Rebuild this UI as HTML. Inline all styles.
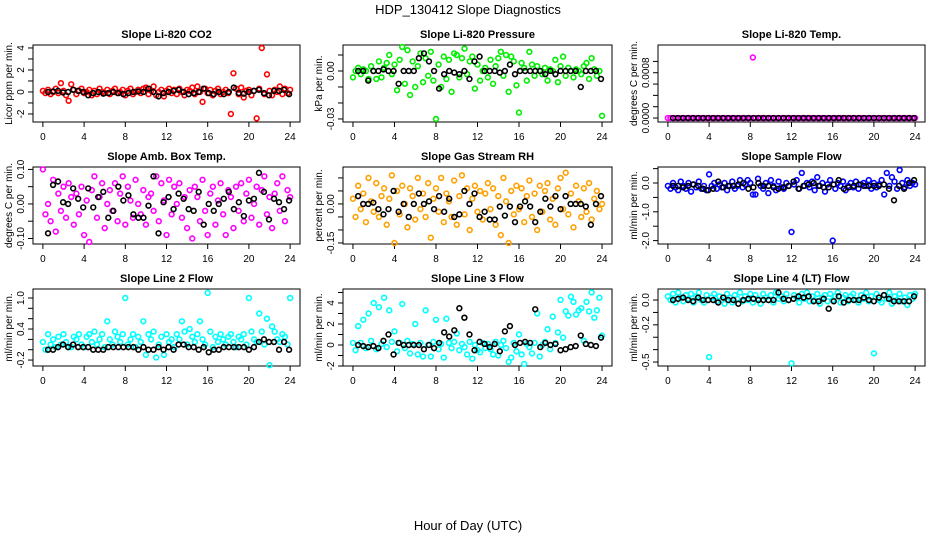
<!DOCTYPE html>
<html><head><meta charset="utf-8"><style>
body{margin:0;background:#fff}
svg{display:block;font-family:"Liberation Sans",Arial,sans-serif}
</style></head><body>
<svg id="c" width="936" height="540" viewBox="0 0 936 540">
<text x="468" y="14" text-anchor="middle" font-size="13">HDP_130412  Slope Diagnostics</text>
<text x="468" y="530" text-anchor="middle" font-size="13">Hour of Day (UTC)</text>
</svg>
<script>
const xTicks=[0,4,8,12,16,20,24];
const co2Color=[0.1,-0.1,0.2,-0.2,0.0,0.3,-0.1,0.8,0.1,-0.3,-0.8,0.7,0.2,-0.2,0.1,0.3,-0.1,0.0,0.2,-0.3,0.1,-0.2,0.3,0.0,-0.1,0.2,-0.2,0.1,0.3,-0.1,0.0,0.2,-0.3,0.1,0.3,-0.2,0.0,0.2,-0.1,0.3,0.4,-0.2,0.1,0.5,-0.3,0.0,0.2,-0.4,0.1,0.3,-0.1,0.2,-0.2,0.3,0.0,-0.3,0.2,0.1,0.4,-0.2,0.5,0.0,-0.9,0.3,-0.1,0.2,-0.3,0.1,0.3,-0.2,0.0,0.2,-0.1,-2.0,1.7,0.3,-0.2,0.4,-0.5,0.1,0.2,-0.3,0.1,-2.4,0.3,4.0,-0.2,1.6,0.1,-0.3,0.2,0.0,0.5,-0.2,0.3,-0.1,0.2];
const co2Black=[0.0,0.05,0.1,-0.05,0.0,0.2,0.1,0.0,-0.3,-0.1,0.0,-0.15,-0.1,0.0,-0.1,-0.2,-0.1,0.0,0.05,0.0,0.3,0.0,-0.4,-0.1,0.0,0.1,0.2,0.0,-0.2,-0.1,0.0,0.3,-0.1,-0.2,0.0,-0.2,0.0,0.4,-0.1,-0.15,0.0,0.1,0.2,-0.1,-0.3,0.1,0.1,0.2,-0.2];
const presColor=[-0.004,0.0,0.002,-0.002,0.001,0.0,-0.005,0.003,0.0,-0.005,0.006,-0.004,0.002,0.005,0.01,-0.002,0.004,-0.012,0.007,0.015,-0.008,0.013,-0.015,0.006,-0.01,0.003,0.011,-0.007,0.008,-0.003,0.012,-0.006,-0.03,0.004,-0.01,0.009,-0.005,0.007,-0.013,0.011,0.01,-0.004,0.008,0.014,-0.002,0.006,0.009,-0.011,0.004,-0.006,0.0,0.002,-0.004,0.007,-0.008,0.003,0.008,0.012,-0.003,0.01,-0.013,0.009,0.006,-0.009,-0.026,0.005,0.002,-0.006,0.012,0.004,-0.003,0.003,0.0,-0.002,0.002,-0.006,0.001,0.0,0.007,-0.007,0.003,0.009,-0.003,0.002,0.0,-0.004,0.001,0.0,-0.002,0.003,0.005,-0.005,0.008,0.001,-0.003,0.0,-0.028];
const presBlack=[0.0,0.0,-0.006,0.0,0.0,0.001,0.0,0.0,-0.008,0.0,0.0,0.0,0.008,0.011,0.006,0.0,-0.011,-0.002,0.0,-0.001,-0.002,0.0,-0.005,0.006,0.009,0.0,0.0,0.0,-0.001,0.0,0.004,-0.002,0.0,0.0,0.0,0.0,0.0,-0.002,0.0,-0.002,0.0,0.0,0.0,0.0,-0.01,0.0,0.0,0.0,-0.005];
const tempColor=[0,0,0,0,0,0,0,0,0,0,0,0,0,0,0,0,0,0,0,0,0,0,0,0,0,0,0,0,0,0,0,0,0,0.00107,0,0,0,0,0,0,0,0,0,0,0,0,0,0,0,0,0,0,0,0,0,0,0,0,0,0,0,0,0,0,0,0,0,0,0,0,0,0,0,0,0,0,0,0,0,0,0,0,0,0,0,0,0,0,0,0,0,0,0,0,0,0,0];
const tempBlack=[0,0,0,0,0,0,0,0,0,0,0,0,0,0,0,0,0,0,0,0,0,0,0,0,0,0,0,0,0,0,0,0,0,0,0,0,0,0,0,0,0,0,0,0,0,0,0,0,0];
const ambColor=[0.1,-0.03,0.0,-0.05,0.07,-0.08,0.03,-0.02,0.05,-0.04,0.06,0.02,-0.06,0.03,-0.03,0.05,-0.09,0.01,-0.11,0.04,0.08,-0.04,0.02,0.06,-0.07,0.0,0.04,-0.02,0.06,-0.05,0.03,0.08,-0.06,0.05,0.01,-0.04,0.07,0.0,-0.03,0.04,-0.06,0.02,0.03,-0.02,0.08,-0.05,0.06,0.01,-0.09,0.07,-0.03,0.05,0.0,0.06,-0.04,0.02,-0.07,0.04,-0.1,0.05,0.02,-0.05,0.07,-0.02,-0.09,0.03,0.05,-0.06,0.01,0.06,-0.03,-0.09,0.04,0.02,-0.07,0.05,-0.02,0.06,-0.05,0.03,0.07,-0.04,0.0,0.05,-0.06,0.04,0.08,-0.03,0.02,-0.07,0.03,0.06,-0.02,0.08,-0.05,0.04,0.02];
const ambBlack=[-0.085,0.055,0.065,0.005,0.0,0.045,0.015,-0.01,0.045,-0.01,0.02,0.035,-0.04,-0.02,0.05,0.01,0.025,-0.03,-0.04,-0.04,-0.005,0.08,-0.085,0.005,0.02,-0.015,0.03,0.015,-0.015,-0.02,0.035,-0.06,0.0,-0.02,0.0,0.015,0.035,-0.015,0.005,-0.035,0.01,0.015,0.09,0.035,-0.045,0.015,0.005,-0.015,0.01];
const rhColor=[0.02,-0.05,0.07,-0.02,0.04,-0.07,0.1,0.01,-0.03,0.08,-0.05,0.03,0.06,-0.08,0.02,0.11,-0.15,0.05,-0.04,0.07,0.0,-0.09,0.06,0.03,-0.06,0.1,-0.02,0.04,-0.05,0.08,-0.13,0.02,0.06,-0.03,0.1,-0.07,0.04,0.01,-0.05,0.09,-0.08,0.03,0.11,-0.04,0.06,-0.1,0.02,0.07,-0.03,0.05,-0.06,0.04,0.08,-0.02,0.06,-0.08,0.03,-0.12,0.1,0.01,-0.15,0.05,-0.04,0.07,-0.02,0.06,-0.07,0.03,0.09,-0.05,0.04,-0.1,0.07,-0.03,0.05,0.08,-0.06,0.02,-0.08,0.06,0.1,-0.02,0.12,-0.04,0.04,-0.09,0.07,0.01,-0.05,0.06,-0.03,0.08,-0.06,0.02,0.05,-0.02,0.0];
const rhBlack=[0.03,0.0,0.0,0.005,-0.02,-0.04,-0.02,0.05,-0.03,0.0,-0.05,0.0,0.04,0.0,0.01,-0.02,0.03,-0.03,0.02,-0.05,-0.04,0.05,0.0,0.04,-0.05,-0.03,-0.06,-0.06,-0.01,-0.045,-0.01,-0.07,-0.01,0.01,-0.01,-0.07,-0.03,0.02,-0.01,0.03,-0.02,0.03,0.0,0.0,0.0,-0.01,-0.08,0.0,0.03];
const flowColor=[-0.1,-0.2,0.0,-0.15,-0.25,0.05,-0.1,-0.2,0.0,-0.3,-0.05,-0.15,0.05,-0.2,-0.1,-0.25,0.3,-0.1,0.0,-0.2,-0.05,-0.15,0.0,-0.25,-0.1,0.05,-0.2,-0.1,0.1,-0.15,-0.05,0.1,0.0,-0.4,-0.4,0.15,-0.1,-0.2,0.0,-0.35,0.1,-0.1,-0.25,0.05,-0.15,-0.2,0.0,-0.1,-1.7,-0.05,0.1,-0.2,0.35,-0.1,0.0,-0.15,0.05,-0.25,0.2,-0.1,0.0,-0.3,-0.05,0.1,-2.0,-0.2,0.0,-0.1,0.05,-0.25,-0.1,0.0,-0.15,0.05,-0.2,-0.05,0.0,-0.1,0.1,-0.2,0.0,-0.15,-0.05,0.1,-0.4,0.35,-0.1,0.2,0.05,-0.2,0.45,0.0,-0.15,0.1,-0.1,0.0,-0.05];
const flowBlack=[-0.1,-0.1,-0.15,-0.1,-0.05,-0.1,-0.2,-0.25,-0.2,0.05,-0.15,-0.1,-0.1,-0.05,0.0,-0.2,-0.15,0.0,-0.1,-0.1,-0.15,-0.2,-0.15,-0.1,0.05,-0.2,-0.1,-0.05,0.0,-0.1,-0.15,-0.15,-0.05,0.1,-0.2,-0.15,-0.1,-0.05,-0.1,-0.1,-0.1,-0.1,-0.05,-0.2,-0.6,-0.1,-0.2,0.0,0.1];
const line2Color=[0.15,0.0,0.3,0.1,0.2,0.05,0.25,0.1,0.3,0.15,0.05,0.05,0.25,0.2,0.3,0.1,0.05,0.25,0.3,0.15,0.35,0.1,0.2,0.3,0.05,0.55,0.2,0.1,0.35,0.25,0.15,0.3,1.0,0.1,0.2,0.3,0.05,0.25,0.15,0.55,-0.1,0.3,0.2,0.35,-0.15,0.1,0.25,-0.1,0.3,0.15,0.2,0.05,0.3,0.2,0.55,0.35,0.1,0.4,0.25,0.15,0.3,0.55,0.2,0.1,1.1,0.35,0.05,0.25,0.15,0.3,0.2,0.1,0.25,0.3,0.15,0.05,0.25,0.2,0.3,0.1,1.0,0.35,0.2,0.15,0.7,0.35,0.1,0.6,-0.3,0.45,0.35,0.2,0.15,0.3,0.25,0.1,1.0];
const line2Black=[0.0,0.0,0.05,0.1,0.05,0.1,0.05,0.05,0.05,0.0,0.0,0.0,0.05,0.05,0.05,0.05,0.05,0.05,0.0,0.05,0.0,0.0,0.05,0.0,0.05,0.0,0.1,0.1,0.05,0.05,0.0,0.05,-0.05,0.0,0.0,0.05,0.05,0.05,0.05,0.05,0.0,0.05,0.15,0.2,0.15,0.15,0.0,0.15,0.0];
const line3Color=[0.2,-0.5,1.8,0.2,2.4,-0.3,3.0,0.4,4.0,-0.4,3.6,0.1,4.5,-0.2,3.3,0.3,1.3,-0.6,0.2,3.9,-0.3,0.4,-0.8,0.1,2.0,-0.9,0.2,-1.1,3.3,0.0,-1.1,0.3,2.4,-0.4,0.1,-1.2,2.5,0.2,-0.3,0.3,1.1,-0.5,0.1,-0.2,-0.9,0.3,-1.3,0.0,-0.5,-0.7,0.2,-0.3,0.1,-0.4,-0.9,0.3,-1.0,0.0,0.4,-0.3,-1.6,-1.2,0.2,-0.6,1.0,-0.9,-1.8,0.1,-0.2,-0.8,0.2,3.0,-1.1,0.0,0.3,1.5,-0.4,2.7,0.2,1.2,4.3,0.7,3.2,2.8,4.6,4.1,2.9,3.3,3.5,0.4,4.1,3.2,5.0,2.6,3.3,4.5,0.9];
const line3Black=[0.0,-0.1,-0.2,-0.1,-0.3,0.4,1.0,-0.9,0.2,0.0,0.0,0.0,0.0,-0.4,0.0,-0.3,0.2,1.2,0.8,1.4,3.5,2.6,1.0,-0.5,0.3,0.1,-0.2,0.1,-0.6,1.3,1.8,0.0,0.2,0.3,0.2,3.4,-0.2,0.2,0.0,0.1,-0.5,-0.4,-0.2,-0.1,0.9,0.1,0.0,-0.1,0.7];
const line4Color=[0.03,0.0,0.05,-0.02,0.06,0.02,-0.01,0.04,0.01,0.05,-0.02,0.03,0.06,0.0,-0.02,0.04,-0.46,0.02,0.05,-0.01,0.03,0.0,-0.03,0.05,0.02,-0.02,0.04,0.01,0.06,-0.01,0.03,0.0,0.05,-0.02,0.04,0.01,-0.03,0.05,0.02,0.0,0.04,-0.02,0.06,0.01,0.03,-0.01,0.05,0.0,-0.51,0.04,0.02,-0.02,0.05,0.01,0.06,-0.01,0.03,0.0,0.05,-0.03,0.02,0.04,-0.01,0.05,0.0,0.03,0.06,-0.02,0.02,0.04,-0.01,0.03,0.05,0.0,-0.02,0.04,0.01,0.06,-0.01,0.03,-0.43,0.05,0.0,-0.02,0.04,0.01,0.06,-0.03,0.03,0.0,0.05,-0.01,0.02,-0.04,0.04,0.01,0.05];
const line4Black=[0.0,0.01,0.02,0.0,-0.01,0.02,0.0,0.0,0.0,-0.02,0.02,0.0,0.0,-0.03,0.0,0.01,0.01,0.0,0.0,0.0,0.0,0.06,0.01,0.0,0.01,0.03,0.02,0.03,-0.01,-0.01,0.01,-0.07,-0.01,0.03,-0.02,0.0,0.0,0.0,0.02,0.0,-0.01,0.02,0.04,0.01,-0.01,-0.01,-0.01,-0.01,0.03];

const panelTitles=["Slope Li-820 CO2","Slope Li-820 Pressure","Slope Li-820 Temp.","Slope Amb. Box Temp.","Slope Gas Stream RH","Slope Sample Flow","Slope Line 2 Flow","Slope Line 3 Flow","Slope Line 4 (LT) Flow"];
const yTitles=["Licor ppm per min.","kPa per min.","degrees C per min.","degrees C per min.","percent per min.","ml/min per min.","ml/min per min.","ml/min per min.","ml/min per min."];
const yTickVals=[[-2,-1,0,1,2,3,4],[-0.03,-0.02,-0.01,0,0.01],[0,0.0002,0.0004,0.0006,0.0008,0.001],[-0.1,-0.05,0,0.05,0.1],[-0.15,-0.1,-0.05,0,0.05,0.1],[-2,-1.5,-1,-0.5,0,0.5],[-0.2,0,0.2,0.4,0.6,0.8,1.0],[-2,-1,0,1,2,3,4,5],[-0.5,-0.4,-0.3,-0.2,-0.1,0]];
const yTickLabels=[["-2","","0","","2","","4"],["-0.03","","","0.00",""],["0.0000","","","","0.0008",""],["-0.10","","0.00","","0.10"],["-0.15","","","0.00","",""],["-2.0","","-1.0","","0.0",""],["-0.2","","","0.4","","","1.0"],["-2","","0","","2","","4",""],["-0.5","","","-0.2","","0.0"]];
const colorSeries=[co2Color,presColor,tempColor,ambColor,rhColor,flowColor,line2Color,line3Color,line4Color];
const blackSeries=[co2Black,presBlack,tempBlack,ambBlack,rhBlack,flowBlack,line2Black,line3Black,line4Black];
const yRanges=[[-2.73,4.27],[-0.0319,0.01625],[-0.00007,0.00129],[-0.116,0.107],[-0.154,0.142],[-2.118,0.556],[-0.315,1.174],[-2.0,5.33],[-0.532,0.089]];

const colors=["#ff0000","#00ee00","#ff00ff","#ff00ff","#ffa000","#0000ff","#00ffff","#00ffff","#00ffff"];
const colsX=[[33,300],[343,612],[658,925]];
const rowsY=[[45,122],[167,244],[289,366]];
const svg=document.getElementById('c');
const NS="http://www.w3.org/2000/svg";
function mk(tag,attrs,parent){const e=document.createElementNS(NS,tag);for(const k in attrs)e.setAttribute(k,attrs[k]);(parent||svg).appendChild(e);return e;}

for(let p=0;p<9;p++){
  const [x0,x1]=colsX[p%3],[y0,y1]=rowsY[Math.floor(p/3)];
  const g=mk('g',{});
  
  
  const pad=(x1-x0)*0.04/1.08;
  const xs=h=>x0+pad+(h/24)*(x1-x0-2*pad);
  const [ymin,ymax]=yRanges[p];
  const ys=v=>y1-(v-ymin)/(ymax-ymin)*(y1-y0);
  // title
  const t=mk('text',{x:(x0+x1)/2,y:y0-7,'text-anchor':'middle','font-size':11,'font-weight':'bold'},g);
  t.textContent=panelTitles[p];
  
  
  // box
  const b=mk('rect',{x:x0,y:y0,width:x1-x0,height:y1-y0,fill:'none',stroke:'#000','stroke-width':1},g);
  
  
  // x axis
  const xa=mk('g',{},g);
  
  
  mk('line',{x1:xs(0),x2:xs(24),y1:y1,y2:y1,stroke:'#000'},xa);
  xTicks.forEach(v=>{
    mk('line',{x1:xs(v),x2:xs(v),y1:y1,y2:y1+5,stroke:'#000'},xa);
    const l=mk('text',{x:xs(v),y:y1+18,'text-anchor':'middle','font-size':10},xa);
    l.textContent=v;
    
    
  });
  // y axis
  const ya=mk('g',{},g);
  
  
  const tv=yTickVals[p];
  mk('line',{x1:x0,x2:x0,y1:ys(tv[0]),y2:ys(tv[tv.length-1]),stroke:'#000'},ya);
  tv.forEach((v,i)=>{
    const yy=ys(v);
    mk('line',{x1:x0-5,x2:x0,y1:yy,y2:yy,stroke:'#000'},ya);
    const s=yTickLabels[p][i];
    if(s){
      const l=mk('text',{x:0,y:0,'text-anchor':'middle','font-size':10,transform:`translate(${x0-9},${yy}) rotate(-90)`},ya);
      l.textContent=s;
      
      
    }
  });
  const yt=mk('text',{x:0,y:0,'text-anchor':'middle','font-size':10,transform:`translate(${x0-21},${(y0+y1)/2}) rotate(-90)`},g);
  yt.textContent=yTitles[p];
  
  
  // series
  const cs=colorSeries[p];
  const cg=mk('g',{fill:'none',stroke:colors[p],'stroke-width':1.6},g);
  
  
  cs.forEach((v,i)=>{
    const c=mk('circle',{cx:xs(i*24/(cs.length-1)),cy:ys(v),r:2.4},cg);
    
    
  });
  const bs=blackSeries[p];
  const bg=mk('g',{fill:'none',stroke:'#000','stroke-width':1.6},g);
  
  
  bs.forEach((v,i)=>{
    const c=mk('circle',{cx:xs(0.5+i*23.4/(bs.length-1)),cy:ys(v),r:2.4},bg);
    
    
  });
}
</script>
</body></html>
